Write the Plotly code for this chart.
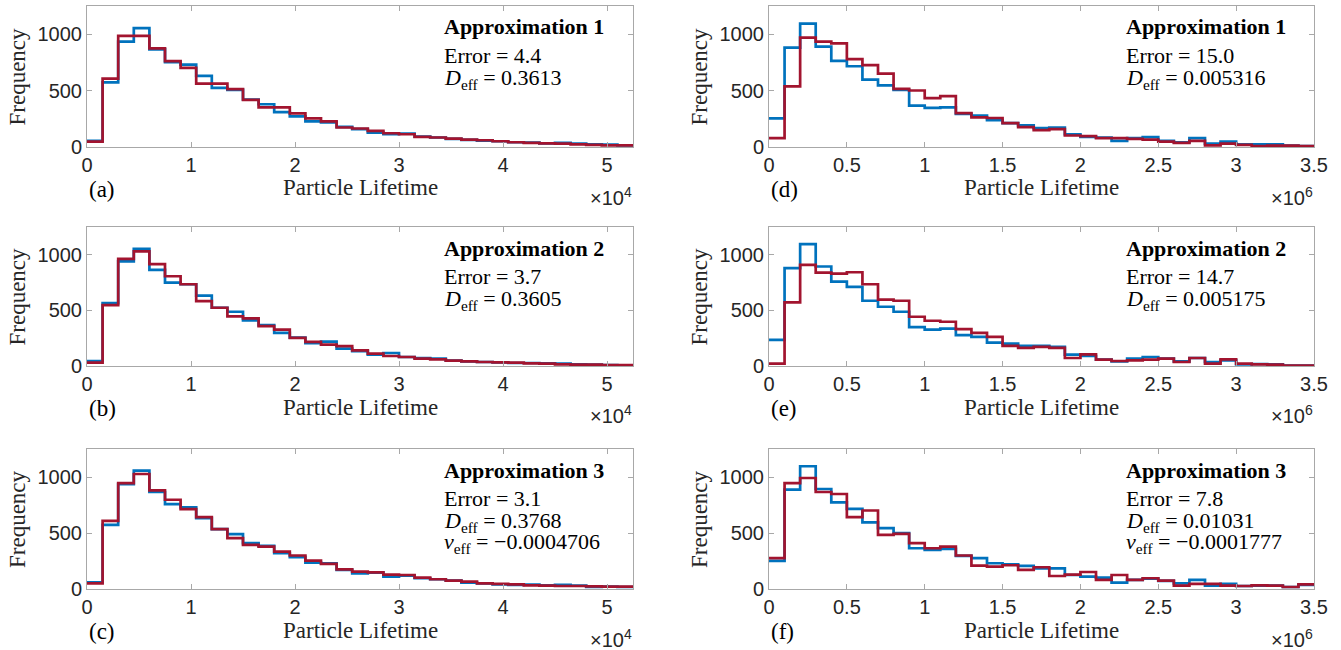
import numpy as np
import plotly.graph_objects as go

# ---------------- data ----------------
bin_width_left = 1500        # Particle lifetime bin width, panels (a)-(c)
bin_width_right = 1.0e5      # Particle lifetime bin width, panels (d)-(f)

# blue = simulated lifetimes, red = approximation
sim_a = [55, 573, 934, 1054, 866, 752, 731, 630, 525, 507, 421, 379, 310, 272, 227, 218, 179, 158,
         128, 113, 119, 92, 84, 72, 63, 57, 51, 42, 39, 33, 36, 30, 24, 21, 15]
apx_a = [48, 606, 985, 985, 875, 761, 701, 561, 561, 513, 418, 352, 352, 298, 254, 227, 173, 164,
         143, 122, 113, 90, 84, 75, 66, 60, 51, 42, 36, 33, 30, 24, 18, 15, 15]

sim_b = [45, 566, 940, 1054, 864, 750, 735, 633, 524, 488, 410, 367, 298, 256, 205, 220, 157, 133,
         102, 117, 81, 72, 66, 48, 42, 36, 33, 27, 27, 24, 21, 15, 12, 9, 6]
apx_b = [30, 548, 964, 1030, 916, 807, 735, 584, 524, 446, 428, 358, 328, 253, 217, 193, 178, 141,
         111, 90, 81, 66, 60, 48, 42, 36, 33, 30, 24, 21, 15, 12, 12, 9, 9]

sim_c = [60, 573, 937, 1057, 866, 758, 728, 633, 534, 490, 409, 385, 319, 284, 236, 230, 170, 140,
         146, 110, 119, 96, 87, 75, 57, 51, 42, 36, 39, 33, 36, 30, 18, 21, 18]
apx_c = [51, 609, 946, 1027, 881, 797, 713, 642, 534, 454, 394, 379, 334, 299, 254, 224, 176, 155,
         149, 128, 125, 102, 87, 75, 66, 51, 45, 42, 33, 30, 27, 27, 24, 21, 21]

sim_d = [254, 881, 1093, 890, 764, 716, 597, 546, 507, 367, 346, 352, 293, 278, 239, 212, 191, 167,
         173, 113, 90, 84, 54, 78, 87, 54, 42, 78, 30, 48, 24, 24, 24, 12, 9]
apx_d = [78, 537, 970, 934, 919, 779, 725, 651, 516, 501, 433, 451, 301, 263, 257, 212, 176, 149,
         158, 102, 96, 78, 78, 72, 66, 48, 36, 54, 15, 30, 18, 9, 12, 12, 9]

sim_e = [235, 880, 1096, 895, 759, 711, 587, 533, 488, 349, 328, 337, 277, 262, 211, 202, 181, 181,
         172, 102, 90, 57, 42, 66, 81, 66, 42, 72, 36, 51, 15, 18, 15, 3, 3]
apx_e = [21, 572, 910, 840, 831, 843, 735, 596, 587, 443, 407, 398, 331, 298, 262, 181, 163, 172,
         163, 72, 105, 57, 45, 51, 57, 66, 36, 72, 21, 60, 21, 15, 12, 3, 3]

sim_f = [251, 887, 1096, 893, 773, 716, 594, 543, 499, 364, 349, 358, 296, 275, 230, 221, 206, 185,
         185, 125, 110, 101, 57, 81, 93, 72, 51, 81, 30, 45, 27, 30, 30, 18, 36]
apx_f = [275, 946, 991, 866, 848, 642, 701, 484, 493, 409, 364, 379, 299, 209, 200, 212, 170, 194,
         116, 128, 152, 81, 125, 81, 96, 75, 30, 45, 45, 30, 27, 33, 30, 18, 42]

panel_letters = ["a", "b", "c", "d", "e", "f"]
approx_titles = ["Approximation 1", "Approximation 2", "Approximation 3",
                 "Approximation 1", "Approximation 2", "Approximation 3"]
errors = ["4.4", "3.7", "3.1", "15.0", "14.7", "7.8"]
d_eff = ["0.3613", "0.3605", "0.3768", "0.005316", "0.005175", "0.01031"]
v_eff = [None, None, "−0.0004706", None, None, "−0.0001777"]

x_ticks_left = [0, 1e4, 2e4, 3e4, 4e4, 5e4]
x_ticktext_left = ["0", "1", "2", "3", "4", "5"]
x_ticks_right = [0, 0.5e6, 1e6, 1.5e6, 2e6, 2.5e6, 3e6, 3.5e6]
x_ticktext_right = ["0", "0.5", "1", "1.5", "2", "2.5", "3", "3.5"]
x_exponent = ["4", "4", "4", "6", "6", "6"]
y_ticks = [0, 500, 1000]
y_range = [0, 1250]

sims = [sim_a, sim_b, sim_c, sim_d, sim_e, sim_f]
apxs = [apx_a, apx_b, apx_c, apx_d, apx_e, apx_f]

# ---------------- layout geometry (pixels) ----------------
W, H = 1341, 650
col_px = [(87, 633), (769, 1314)]
row_px = [(6, 147), (227, 366), (449, 589)]

BLUE = "#0072BD"
RED = "#A2142F"
FRAME = "#a8a8a8"
TXT = "#262626"
SANS = "Liberation Sans"
SERIF = "Liberation Serif"


def px(x):
    return x / W


def py(y):
    return 1 - y / H


fig = go.Figure()
annotations = []


def note(x, y, text, size, family=SERIF, color="#000000", xanchor="left", yanchor="middle", angle=0):
    annotations.append(dict(x=px(x), y=py(y), xref="paper", yref="paper", text=text,
                            showarrow=False, xanchor=xanchor, yanchor=yanchor, textangle=angle,
                            borderpad=0,
                            font=dict(family=family, size=size, color=color)))


for i in range(6):
    col = 0 if i < 3 else 1
    row = i % 3
    bw = bin_width_left if col == 0 else bin_width_right
    xa = "x" if i == 0 else f"x{i+1}"
    ya = "y" if i == 0 else f"y{i+1}"
    for vals, color in ((sims[i], BLUE), (apxs[i], RED)):
        edges = np.arange(len(vals) + 1) * bw
        yv = list(vals) + [vals[-1]]
        fig.add_trace(go.Scatter(x=edges, y=yv, mode="lines",
                                 line=dict(shape="hv", color=color, width=2.7),
                                 xaxis=xa, yaxis=ya, showlegend=False, hoverinfo="skip"))

    x0, x1 = col_px[col]
    y0, y1 = row_px[row]
    xkey = "xaxis" if i == 0 else f"xaxis{i+1}"
    ykey = "yaxis" if i == 0 else f"yaxis{i+1}"
    fig.layout[xkey] = dict(
        domain=[px(x0), px(x1)], anchor=ya,
        range=[0, 35 * bw],
        tickvals=x_ticks_left if col == 0 else x_ticks_right,
        ticktext=x_ticktext_left if col == 0 else x_ticktext_right,
        showline=True, linecolor=FRAME, linewidth=1, mirror="ticks",
        ticks="inside", ticklen=5, tickcolor=FRAME, tickwidth=1,
        showgrid=False, zeroline=False, automargin=False,
        tickfont=dict(family=SANS, size=20, color=TXT),
    )
    fig.layout[ykey] = dict(
        domain=[py(y1), py(y0)], anchor=xa,
        range=y_range, tickvals=y_ticks,
        showline=True, linecolor=FRAME, linewidth=1, mirror="ticks",
        ticks="inside", ticklen=5, tickcolor=FRAME, tickwidth=1,
        showgrid=False, zeroline=False, automargin=False,
        tickfont=dict(family=SANS, size=20, color=TXT),
    )

    # axis labels
    note((x0 + x1) / 2, y1 + 41, "Particle Lifetime", 23, color=TXT, xanchor="center")
    note(x0 - 70, (y0 + y1) / 2, "Frequency", 23, color=TXT, xanchor="center", angle=-90)
    note(x0 + 1, y1 + 42, f"({panel_letters[i]})", 23)
    note(x1, y1 + 49, f"×10<sup>{x_exponent[i]}</sup>", 20, family=SANS, color=TXT, xanchor="right")

    # in-panel text
    tx = x0 + 356
    note(tx, y0 + 21, f"<b>{approx_titles[i]}</b>", 22)
    note(tx, y0 + 49, f"Error = {errors[i]}", 22)
    note(tx, y0 + 73, f"<i>D</i><sub>eff</sub> = {d_eff[i]}", 22)
    if v_eff[i] is not None:
        note(tx, y0 + 94, f"<i>v</i><sub>eff</sub> = {v_eff[i]}", 22)

fig.update_layout(
    width=W, height=H,
    margin=dict(l=0, r=0, t=0, b=0),
    paper_bgcolor="white", plot_bgcolor="white",
    annotations=annotations,
    showlegend=False,
)

fig.write_html("out.html", config={"displayModeBar": False},
               post_script="document.body.style.margin='0';document.body.style.overflow='hidden';")
